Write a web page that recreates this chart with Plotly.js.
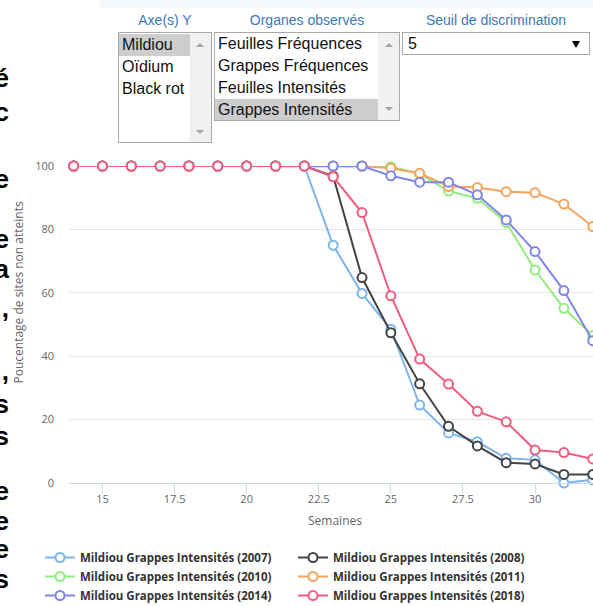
<!DOCTYPE html>
<html>
<head>
<meta charset="utf-8">
<script src="https://cdn.plot.ly/plotly-3.0.1.min.js"></script>
<style>
  html, body { margin:0; padding:0; width:593px; height:606px; overflow:hidden; background:#fff; }
  #chart { position:absolute; left:0; top:0; width:593px; height:660px; }
  .lbl { position:absolute; z-index:5; font-family:"Liberation Sans Narrow","Liberation Sans",Arial,sans-serif; font-size:14px; color:#3d78b5; text-align:center; top:11px; line-height:18px; }
  .box { position:absolute; z-index:5; border:1px solid #a9a9a9; background:#fff; box-sizing:border-box; overflow:hidden; }
  .row { position:absolute; left:0; height:22px; line-height:22px; font-family:"Liberation Sans", Arial, sans-serif; font-size:16px; color:#111; padding-left:3px; white-space:nowrap; box-sizing:border-box; }
  .sel { background:#cdcdcd; }
  .sb { position:absolute; top:0; bottom:0; width:21px; right:0; background:#f1f1f1; }
  .up { position:absolute; width:0; height:0; border-left:4px solid transparent; border-right:4px solid transparent; border-bottom:4px solid #a3a3a3; }
  .dn { position:absolute; width:0; height:0; border-left:4px solid transparent; border-right:4px solid transparent; border-top:4px solid #a3a3a3; }
  .frag { position:absolute; z-index:5; left:-30px; width:39px; text-align:right; font-family:"Liberation Sans", Arial, sans-serif; font-weight:bold; font-size:26px; color:#000; line-height:26px; }
</style>
</head>
<body>
<div id="chart"></div>

<div style="position:absolute;left:100px;top:0;width:493px;height:8px;background:#f6f9fb;z-index:4"></div>

<div class="lbl" style="left:118px;width:94px;">Axe(s) Y</div>
<div class="lbl" style="left:214px;width:186px;">Organes observés</div>
<div class="lbl" style="left:402px;width:188px;">Seuil de discrimination</div>

<div class="box" style="left:118px;top:32px;width:94px;height:111px;">
  <div class="row sel" style="top:1px;width:71px;">Mildiou</div>
  <div class="row" style="top:23px;">Oïdium</div>
  <div class="row" style="top:45px;">Black rot</div>
  <div class="sb"><div class="up" style="left:6px;top:10px;"></div><div class="dn" style="left:6px;top:97px;"></div></div>
</div>

<div class="box" style="left:214px;top:32px;width:186px;height:89px;">
  <div class="row" style="top:0px;">Feuilles Fréquences</div>
  <div class="row" style="top:22px;">Grappes Fréquences</div>
  <div class="row" style="top:44px;">Feuilles Intensités</div>
  <div class="row sel" style="top:66px;width:164px;">Grappes Intensités</div>
  <div class="sb"><div class="up" style="left:7px;top:10px;"></div><div class="dn" style="left:7px;top:74px;"></div></div>
</div>

<div class="box" style="left:402px;top:32px;width:188px;height:23px;">
  <div class="row" style="top:0px;height:21px;line-height:21px;padding-left:5px;">5</div>
  <div style="position:absolute;right:9px;top:8px;width:0;height:0;border-left:4px solid transparent;border-right:4px solid transparent;border-top:7px solid #000;"></div>
</div>

<div class="frag" style="top:65px;">é</div>
<div class="frag" style="top:99px;">c</div>
<div class="frag" style="top:166px;">e</div>
<div class="frag" style="top:226px;">e</div>
<div class="frag" style="top:256px;">a</div>
<div class="frag" style="top:295px;">,</div>
<div class="frag" style="top:358px;">,</div>
<div class="frag" style="top:391px;">s</div>
<div class="frag" style="top:423px;">s</div>
<div class="frag" style="top:478px;">e</div>
<div class="frag" style="top:508px;">e</div>
<div class="frag" style="top:536px;">e</div>
<div class="frag" style="top:566px;">s</div>

<script>
const weeks = [14,15,16,17,18,19,20,21,22,23,24,25,26,27,28,29,30,31,32];
const s2007 = [100,100,100,100,100,100,100,100,100, 75.0, 59.8, 48.5, 24.6, 15.8, 13.0, 7.8, 7.3, 0.0, 1.0];
const s2008 = [100,100,100,100,100,100,100,100,100, 96.8, 64.8, 47.4, 31.3, 17.9, 11.7, 6.4, 6.0, 2.7, 2.7];
const s2010 = [100,100,100,100,100,100,100,100,100,100.0,100.0, 99.8, 97.5, 92.1, 89.8, 82.2, 67.2, 55.1, 46.5];
const s2011 = [100,100,100,100,100,100,100,100,100,100.0,100.0, 99.3, 97.7, 93.5, 93.2, 91.9, 91.6, 88.0, 80.9];
const s2014 = [100,100,100,100,100,100,100,100,100,100.0,100.0, 96.9, 94.9, 94.9, 90.9, 83.0, 73.0, 60.7, 44.9];
const s2018 = [100,100,100,100,100,100,100,100,100, 96.6, 85.3, 59.1, 39.1, 31.2, 22.6, 19.3, 10.4, 9.6, 7.6];

const seriesNames = [
  "Mildiou Grappes Intensités (2007)",
  "Mildiou Grappes Intensités (2008)",
  "Mildiou Grappes Intensités (2010)",
  "Mildiou Grappes Intensités (2011)",
  "Mildiou Grappes Intensités (2014)",
  "Mildiou Grappes Intensités (2018)"
];
const seriesValues = [s2007, s2008, s2010, s2011, s2014, s2018];
const colors = ["#7cb5ec", "#434348", "#90ed7d", "#f7a35c", "#8085e9", "#f15c80"];

const xTicks = [15, 17.5, 20, 22.5, 25, 27.5, 30];
const xTickText = ["15", "17.5", "20", "22.5", "25", "27.5", "30"];
const yTicks = [0, 20, 40, 60, 80, 100];
const xTitle = "Semaines";
const yTitle = "Poucentage de sites non atteints";

const traces = seriesValues.map((vals, i) => ({
  x: weeks, y: vals, name: seriesNames[i], type: "scatter", mode: "lines+markers",
  line: { color: colors[i], width: 2 },
  marker: { symbol: "circle", size: 9, color: "#ffffff", line: { color: colors[i], width: 2 } },
  cliponaxis: false
}));

const W = 593, H = 660, L = 69, T = 166, B = 483;
const fx = v => v / W;
const fy = v => 1 - v / H;

const layout = {
  width: W, height: H,
  margin: { l: 0, r: 0, t: 0, b: 0, pad: 0 },
  paper_bgcolor: "rgba(0,0,0,0)", plot_bgcolor: "#ffffff",
  font: { family: "Open Sans, sans-serif", color: "#666666", size: 11 },
  showlegend: true,
  xaxis: {
    domain: [fx(L), 1],
    range: [13.84, 32.01], tickvals: xTicks, ticktext: xTickText,
    showgrid: false, zeroline: false, showline: true, linecolor: "#ccd6eb", linewidth: 1,
    ticks: "outside", ticklen: 9, tickcolor: "#ccd6eb", tickwidth: 1, ticklabelstandoff: -3,
    tickfont: { family: "Open Sans, sans-serif", size: 11, color: "#666666" },
    fixedrange: true
  },
  yaxis: {
    domain: [fy(B), fy(T)],
    range: [0, 100], tickvals: yTicks, showgrid: true, gridcolor: "#e6e6e6", gridwidth: 1,
    zeroline: false, showline: false, ticks: "", ticklabelstandoff: 14,
    tickfont: { family: "Open Sans, sans-serif", size: 11, color: "#666666" },
    fixedrange: true
  },
  annotations: [
    { text: xTitle, xref: "paper", yref: "paper", x: fx(334.5), y: fy(520), xanchor: "center", yanchor: "middle",
      showarrow: false, font: { family: "Open Sans, sans-serif", size: 12, color: "#666666" } },
    { text: yTitle, xref: "paper", yref: "paper", x: fx(18), y: fy(292.5), xanchor: "center", yanchor: "middle",
      textangle: -90, showarrow: false, font: { family: "Open Sans, sans-serif", size: 12, color: "#666666" } }
  ],
  legend: {
    orientation: "h", x: fx(40), y: fy(543), xanchor: "left", yanchor: "top",
    entrywidth: 208, entrywidthmode: "pixels", traceorder: "normal",
    font: { family: "Open Sans, sans-serif", size: 11.5, color: "#333333", weight: "bold" },
    bgcolor: "rgba(0,0,0,0)", borderwidth: 0, itemclick: false, itemdoubleclick: false
  }
};

Plotly.newPlot("chart", traces, layout, { displayModeBar: false, staticPlot: true });
</script>
</body>
</html>
